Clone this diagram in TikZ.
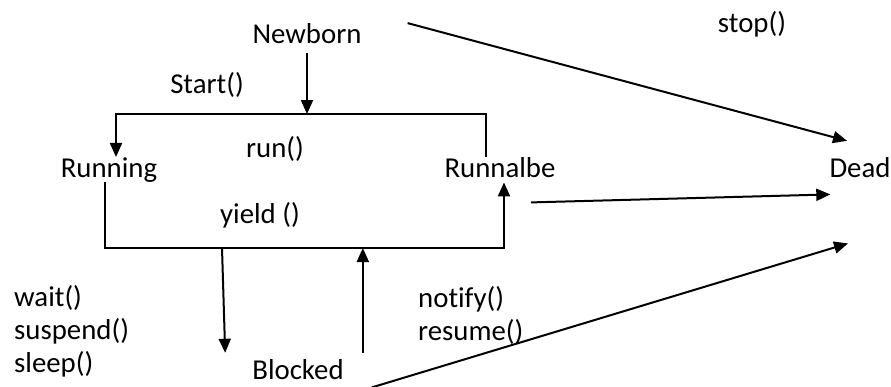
\documentclass[tikz,border=0pt]{standalone}
\usepackage{fontspec}
\setmainfont{Carlito}[Ligatures=NoCommon]
\usetikzlibrary{arrows.meta,positioning,calc}
\newcommand{\lbl}{\fontsize{28.8}{33}\selectfont}

\begin{document}
\begin{tikzpicture}[x=1pt,y=-1pt,
    state/.style={font=\lbl,inner sep=0pt,anchor=base},
    call/.style={font=\lbl,inner sep=0pt,anchor=base},
    arr/.style={-{Triangle[width=12pt,length=14pt]},line width=2pt},
    wire/.style={line width=2pt}]
  \useasboundingbox (0,0) rectangle (891,386);

  \node[state] (newborn)  at (307,43)  {Newborn};
  \node[state] (running)  at (109,177) {Running};
  \node[state] (runnable) at (500,177) {Runnalbe};
  \node[state] (dead)     at (860,177) {Dead};
  \node[state] (blocked)  at (298,379) {Blocked};

  \node[call] (start) at (207,93)  {Start()};
  \node[call] (run)   at (275,157) {run()};
  \node[call] (yield) at (260,223) {yield ()};
  \node[call] (stop)  at (752,32)  {stop()};
  \node[call,anchor=north west,align=left] (sleep)  at (14,285)  {wait()\\suspend()\\sleep()};
  \node[call,anchor=north west,align=left] (notify) at (418,286) {notify()\\resume()};

  \coordinate (topbar) at (305,114);
  \coordinate (botbar) at (222,248);

  \draw[arr] ([yshift=-10pt]newborn.south) -- (newborn.south |- topbar);
  \draw[arr] ([xshift=-14pt]runnable.north) |- (topbar) -| ([xshift=7pt]running.north);
  \draw[arr,shorten >=5pt] ([xshift=-4pt]running.south) |- (botbar) -| ([xshift=4pt]runnable.south);

  \draw[arr] (botbar) -- ([xshift=-27pt,yshift=6pt]blocked.north west);
  \draw[arr] ([xshift=19pt,yshift=6pt]blocked.north east) -- ([xshift=19pt]blocked.north east |- botbar);

  \draw[arr] ([shift={(46pt,10pt)}]newborn.east) -- ([shift={(-13pt,16pt)}]dead.north);
  \draw[arr] ([shift={(31pt,-25pt)}]runnable.south) -- ([shift={(1pt,-17pt)}]dead.south west);
  \draw[arr] ([shift={(28pt,-8pt)}]blocked.south east) -- ([shift={(-12pt,-66pt)}]dead.south);
\end{tikzpicture}
\end{document}
